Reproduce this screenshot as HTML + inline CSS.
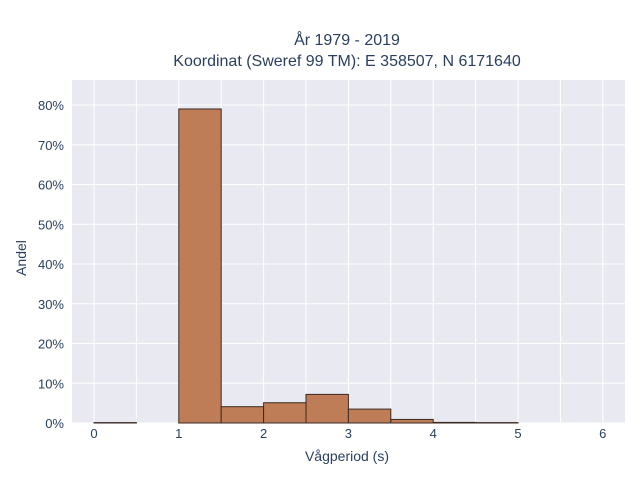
<!DOCTYPE html>
<html><head><meta charset="utf-8"><style>
body{margin:0;background:#fff;font-family:"Liberation Sans",sans-serif;}
svg text{font-family:"Liberation Sans",sans-serif;fill:#2a3f5f;}
</style></head><body>
<svg width="640" height="480" xmlns="http://www.w3.org/2000/svg">
<rect x="0" y="0" width="640" height="480" fill="#fff"/>
<text x="347" y="45" text-anchor="middle" font-size="16">År 1979 - 2019</text>
<text x="347" y="66" text-anchor="middle" font-size="16">Koordinat (Sweref 99 TM): E 358507, N 6171640</text>
<rect x="72" y="80" width="553" height="343" fill="#e9e9f1"/>
<g id="grid"></g>
<g id="bars"></g>
<g id="ticks"></g>
<text x="347" y="461" text-anchor="middle" font-size="14">Vågperiod (s)</text>
<text transform="translate(26,258) rotate(-90)" text-anchor="middle" font-size="14">Andel</text>
</svg>
<script>
const binStarts=[0,0.5,1,1.5,2,2.5,3,3.5,4,4.5];
const binValues=[0.1,0,79,4.1,5.1,7.2,3.5,0.9,0.15,0.1];
const binWidth=0.5;
const xTicks=[0,1,2,3,4,5,6];
const yTicks=[0,10,20,30,40,50,60,70,80];
const NS="http://www.w3.org/2000/svg";
function xs(v){return 94+v*84.8;}
function ys(v){return 423-v*3.975;}
const grid=document.getElementById('grid'),bars=document.getElementById('bars'),ticks=document.getElementById('ticks');
function mk(tag,attrs,parent){const e=document.createElementNS(NS,tag);for(const k in attrs)e.setAttribute(k,attrs[k]);parent.appendChild(e);return e;}
for(let v=0;v<=6;v+=0.5){const l=mk('line',{x1:xs(v),x2:xs(v),y1:80,y2:423,stroke:'#fff','stroke-width':1},grid);

}
yTicks.forEach(t=>{const l=mk('line',{x1:72,x2:625,y1:ys(t),y2:ys(t),stroke:'#fff','stroke-width':1},grid);


const tx=mk('text',{x:64,y:ys(t)+5,'text-anchor':'end','font-size':13},ticks);tx.textContent=t+'%';

});
xTicks.forEach(t=>{const tx=mk('text',{x:xs(t),y:438,'text-anchor':'middle','font-size':13},ticks);tx.textContent=t;

});
binStarts.forEach((s,i)=>{const v=binValues[i];if(v<=0)return;
const r=mk('rect',{x:xs(s),y:ys(v),width:xs(s+binWidth)-xs(s),height:ys(0)-ys(v),fill:'#bf7d57',stroke:'#3a2a22','stroke-width':1},bars);

});
</script>
</body></html>
